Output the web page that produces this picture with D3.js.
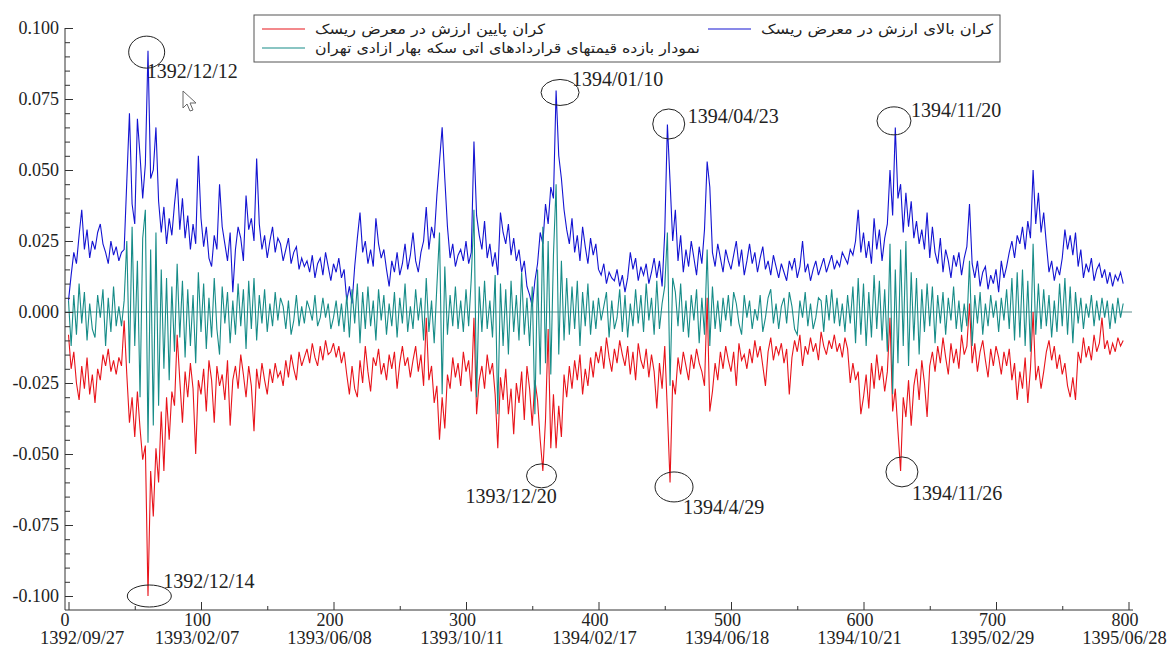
<!DOCTYPE html>
<html>
<head>
<meta charset="utf-8">
<script src="https://cdn.jsdelivr.net/npm/d3@7"></script>
<style>
  body { margin: 0; background: #fff; }
</style>
</head>
<body>
<div id="chart"></div>
<script>
// values are in thousandths (0.025 -> 25), one reading every 2 observations
const step = 2;

// upper value-at-risk bound
const upperBound = [
    4, 13, 21, 17, 27, 36, 22, 29, 19, 25,
    22, 28, 31, 24, 21, 17, 25, 20, 23, 18,
    21, 22, 46, 70, 38, 31, 68, 55, 40, 52,
    92, 47, 50, 65, 39, 28, 37, 24, 33, 27,
    38, 47, 29, 40, 26, 34, 22, 31, 24, 55,
    33, 23, 30, 19, 16, 27, 22, 45, 30, 24,
    18, 28, 7, 22, 30, 26, 18, 41, 29, 33,
    25, 54, 31, 22, 27, 19, 25, 30, 21, 26,
    24, 18, 22, 26, 17, 21, 23, 15, 19, 16,
    18, 14, 20, 12, 17, 19, 13, 21, 16, 11,
    17, 14, 19, 12, 15, 4, 9, 3, 16, 26,
    35, 21, 25, 17, 22, 16, 33, 24, 19, 22,
    15, 9, 18, 14, 21, 13, 17, 24, 15, 20,
    28, 18, 14, 21, 25, 37, 22, 30, 26, 41,
    53, 65, 47, 30, 19, 24, 16, 20, 22, 18,
    25, 17, 21, 60, 34, 27, 22, 32, 19, 24,
    16, 21, 13, 35, 28, 24, 31, 20, 26, 18,
    22, 14, 18, 9, 6, 2, 11, 17, 28, 24,
    38, 31, 44, 40, 78, 55, 47, 36, 29, 24,
    33, 21, 27, 18, 30, 23, 17, 26, 20, 24,
    15, 13, 17, 10, 14, 12, 11, 15, 9, 13,
    7, 12, 21, 15, 19, 11, 16, 13, 17, 10,
    14, 19, 12, 18, 9, 28, 66, 46, 25, 36,
    18, 27, 14, 22, 16, 25, 19, 13, 23, 17,
    29, 53, 44, 21, 16, 24, 19, 14, 22, 18,
    15, 20, 25, 16, 22, 13, 18, 24, 17, 21,
    14, 19, 23, 15, 18, 13, 20, 16, 12, 17,
    14, 11, 18, 15, 19, 12, 16, 25, 14, 17,
    11, 15, 18, 13, 16, 19, 14, 17, 20, 15,
    18, 16, 21, 19, 17, 22, 20, 25, 36, 21,
    28, 19, 25, 17, 33, 22, 29, 18, 26, 31,
    50, 34, 65, 40, 45, 28, 42, 30, 39, 26,
    32, 24, 29, 22, 35, 19, 30, 21, 17, 26,
    14, 22, 18, 12, 20, 16, 21, 13, 19, 23,
    38, 17, 12, 18, 9, 14, 16, 8, 13, 10,
    15, 7, 18, 12, 16, 21, 25, 19, 27, 24,
    30, 22, 32, 26, 50, 31, 42, 28, 35, 24,
    14, 18, 11, 16, 13, 19, 29, 22, 27, 20,
    28, 16, 22, 12, 17, 14, 19, 11, 15, 17,
    12, 15, 10, 14, 9, 13, 11, 14, 10
];

// lower value-at-risk bound
const lowerBound = [
    -8, -20, -14, -25, -31, -19, -27, -16, -29, -22,
    -32, -20, -24, -15, -19, -13, -21, -17, -22, -16,
    -19, -3, -22, -39, -30, -44, -28, -41, -52, -47,
    -100, -56, -72, -48, -60, -35, -56, -30, -45, -28,
    -33, -8, -24, -39, -21, -30, -18, -27, -50, -24,
    -29, -20, -35, -17, -24, -39, -19, -26, -22, -31,
    -17, -40, -24, -19, -27, -15, -22, -30, -19, -26,
    -42, -20, -27, -18, -24, -29, -20, -25, -18, -23,
    -21, -26, -17, -23, -15, -20, -24, -14, -19, -16,
    -13, -18, -11, -16, -19, -12, -17, -10, -15, -14,
    -11, -16, -12, -18, -14, -22, -29, -19, -27, -30,
    -17, -25, -12, -21, -28, -16, -19, -13, -22, -18,
    -24, -15, -20, -14, -27, -18, -12, -19, -16, -23,
    -17, -12, -21, -15, -26, -2, -24, -19, -32, -26,
    -45, -30, -41, -22, -27, -16, -23, -18, -26, -14,
    -21, -17, -28, -2, -36, -24, -19, -27, -15, -22,
    -18, -29, -48, -23, -31, -20, -36, -27, -43, -25,
    -32, -21, -38, -19, -27, -40, -24, -31, -45, -56,
    -38, -6, -48, -29, -48, -33, -44, -22, -30, -19,
    -27, -17, -24, -15, -29, -20, -26, -16, -23, -14,
    -18, -12, -20, -9, -16, -21, -13, -18, -10, -15,
    -19, -12, -22, -14, -24, -11, -17, -20, -13, -23,
    -15, -21, -34, -18, -27, -12, -35, -60, -24, -29,
    -16, -22, -14, -19, -24, -15, -20, -13, -18, -21,
    -26, 5, -35, -28, -18, -24, -14, -20, -12, -17,
    -21, -14, -26, -11, -17, -15, -20, -13, -18, -10,
    -16, -12, -19, -26, -14, -9, -17, -12, -15, -11,
    -18, -13, -29, -16, -10, -14, -8, -19, -12, -15,
    -9, -14, -11, -17, -7, -12, -15, -10, -13, -8,
    -14, -11, -16, -9, -13, -25, -18, -24, -21, -36,
    -30, -22, -34, -18, -27, -15, -24, -19, -28, -21,
    -2, -35, -27, -42, -56, -30, -37, -24, -40, -26,
    -20, -31, -17, -25, -37, -19, -14, -21, -12, -18,
    -9, -16, -22, -11, -18, -13, -20, -8, -15, -12,
    3, -18, -11, -21, -14, -10, -17, -23, -13, -19,
    -12, -16, -22, -14, -19, -13, -24, -18, -31, -21,
    -27, -16, -32, -20, 0, -24, -19, -27, -21, -14,
    -10, -17, -12, -20, -15, -22, -18, -26, -30, -23,
    -31, -14, -18, -9, -16, -12, -17, -8, -14, -11,
    -2, -13, -10, -15, -11, -14, -9, -12, -10
];

// returns of the futures prices
const returns = [
    4, -12, 6, -8, 10, -4, 7, -10, 3, -6,
    -9, 6, -2, 8, -12, 5, -7, 9, -5, 2,
    -5, 4, 25, -18, 30, -12, 18, -30, 26, 36,
    -46, 22, -40, 28, -33, 15, -20, 12, -24, 9,
    -14, 17, -9, 11, -16, 8, -12, 6, -18, 14,
    -7, 10, -13, 5, -9, 12, -6, -15, 9, -4,
    7, -11, 4, -8, 10, -5, 8, -13, 11, -6,
    12, -10, 6, -4, 8, -7, 3, -5, 7, -3,
    5, 2, -6, 4, -8, -3, 6, -5, 2, -4,
    4, 1, -3, 6, -5, -2, 5, -2, 3, -6,
    -2, 4, -5, 3, -7, 6, -9, 8, -4, 10,
    -11, 7, -6, 9, -5, 4, -10, 8, -3, 6,
    -8, 3, -5, 7, -9, 5, -4, 10, -7, 2,
    -6, 8, -3, 5, -10, 12, -7, 4, -11, 9,
    28, -29, 16, -8, 6, -5, 9, -6, 4, -7,
    8, -5, 12, 36, -30, 9, -7, 11, -6, 4,
    -9, 13, -36, 10, -12, 8, -15, 11, -7, 6,
    -10, 14, -8, 5, -12, 9, -36, 15, -22, 30,
    -18, 25, -22, 20, 45, -15, 18, -10, 12, -8,
    9, -6, 11, -12, 7, -5, 10, -8, 4, -6,
    5, -3, 2, 7, -9, 4, -6, -2, 8, -7,
    6, -9, 3, -5, 8, -4, 6, -7, 10, -3,
    5, -8, 11, -6, 3, 9, 28, -26, 12, 7,
    -5, 10, -7, 4, -9, 6, -3, 8, -11, 5,
    -8, 22, -12, 9, -6, 4, -7, 5, -3, 6,
    -5, 7, 3, -4, -8, 6, -2, 4, -6, 1,
    -3, 6, -7, -2, 5, 8, -4, 3, -6, 2,
    5, -4, 7, 2, -6, -8, 4, -2, 7, -5,
    3, -6, -2, 5, 4, -7, 6, -3, 8, -4,
    5, -5, 3, -7, 6, -4, 9, -11, 12, -8,
    10, -12, 7, -9, 13, -6, 11, -10, 8, -14,
    24, -29, 15, -18, 22, -12, 25, -19, 14, -10,
    12, -15, 8, -7, 10, -5, 9, -11, 6, -4,
    7, -8, 5, -3, 9, -6, 4, -7, 3, -5,
    18, -12, 6, -4, 7, -8, 3, -5, 6, -2,
    4, -7, 5, -3, 8, -6, 12, -10, 14, -9,
    15, -12, 11, -14, 24, -8, 10, -6, 8, -5,
    6, -9, 4, -7, 10, -5, 12, -8, 9, -11,
    7, -4, 5, -6, 3, -2, 6, -5, 4, -3,
    5, -2, 4, -6, 3, -4, 5, -2, 3
];

const xTicks = [0, 100, 200, 300, 400, 500, 600, 700, 800];
const xDates = ["1392/09/27", "1393/02/07", "1393/06/08", "1393/10/11", "1394/02/17",
                "1394/06/18", "1394/10/21", "1395/02/29", "1395/06/28"];
const yTicks = [-100, -75, -50, -25, 0, 25, 50, 75, 100];

const seriesNames = ["کران پایین ارزش در معرض ریسک", "کران بالای ارزش در معرض ریسک",
                     "نمودار بازده قیمتهای قراردادهای اتی سکه بهار ازادی تهران"];

// circled extremes: date, observation, value (thousandths)
const peakDates = ["1392/12/12", "1392/12/14", "1394/01/10", "1393/12/20",
                   "1394/04/23", "1394/4/29", "1394/11/20", "1394/11/26"];
const peakIndex = [59, 61, 371, 357, 453, 457, 623, 629];
const peakValue = [91.5, -100, 77.3, -57.7, 66.2, -61.6, 67.3, -56.3];

const width = 1169, height = 648;
const colors = { lower: "#e8141b", upper: "#1414d2", returns: "#178c88" };

const svg = d3.select("#chart").append("svg")
    .attr("width", width)
    .attr("height", height);

const x = d3.scaleLinear().domain([0, 800]).range([68.5, 1128.5]);
const y = d3.scaleLinear().domain([-100, 100]).range([596, 28]);
const axisLeftX = 65, axisBottomY = 610;

// zero line
svg.append("line")
    .attr("x1", axisLeftX).attr("x2", 1132)
    .attr("y1", y(0)).attr("y2", y(0))
    .attr("stroke", "#5d8f8d")
    .attr("stroke-width", 1);

// series
const line = d3.line()
    .x((d, i) => x(i * step))
    .y(d => y(d));

[[lowerBound, colors.lower], [upperBound, colors.upper], [returns, colors.returns]]
    .forEach(([values, color]) => {
        svg.append("path")
            .datum(values)
            .attr("fill", "none")
            .attr("stroke", color)
            .attr("stroke-width", 1.1)
            .attr("d", line);
    });

// Y axis
const yAxis = svg.append("g")
    .attr("transform", `translate(${axisLeftX},0)`)
    .call(d3.axisLeft(y).tickValues(yTicks).tickSize(-8).tickPadding(6)
        .tickFormat(d => (d / 1000).toFixed(3)));
svg.append("g")
    .attr("transform", `translate(${axisLeftX},0)`)
    .call(d3.axisLeft(y).tickValues(d3.range(-95, 100, 5).filter(d => d % 25 !== 0))
        .tickSize(-5).tickFormat(""));

// X axis
const xAxis = svg.append("g")
    .attr("transform", `translate(0,${axisBottomY})`)
    .call(d3.axisBottom(x).tickValues(xTicks).tickSize(-8).tickPadding(3));
svg.append("g")
    .attr("transform", `translate(0,${axisBottomY})`)
    .call(d3.axisBottom(x).tickValues(d3.range(50, 800, 100)).tickSize(-4).tickFormat(""));

svg.selectAll(".domain").remove();
svg.selectAll(".tick line").attr("stroke", "#333");

yAxis.selectAll("text")
    .attr("font-family", "Liberation Serif")
    .attr("font-size", 18)
    .attr("fill", "#222");

xAxis.selectAll("text")
    .attr("font-family", "Liberation Serif")
    .attr("font-size", 18)
    .attr("fill", "#222")
    .attr("dx", -4);

// date labels under the tick numbers
svg.selectAll(".date")
    .data(xTicks)
    .enter()
    .append("text")
    .attr("class", "date")
    .attr("x", d => x(d) - 4)
    .attr("y", axisBottomY + 34)
    .attr("text-anchor", "middle")
    .attr("font-family", "Liberation Serif")
    .attr("font-size", 18.5)
    .attr("fill", "#222")
    .text((d, i) => xDates[i])
    .each(function () {
        // keep the first label inside the window
        const w = this.getComputedTextLength();
        const left = +this.getAttribute("x") - w / 2;
        if (left < 40) this.setAttribute("x", 40 + w / 2);
    });

// axis lines
svg.append("line")
    .attr("x1", axisLeftX).attr("x2", axisLeftX)
    .attr("y1", y(100)).attr("y2", axisBottomY)
    .attr("stroke", "#333");
svg.append("line")
    .attr("x1", axisLeftX).attr("x2", 1133)
    .attr("y1", axisBottomY).attr("y2", axisBottomY)
    .attr("stroke", "#333");

// legend
const legend = svg.append("g");
legend.append("rect")
    .attr("x", 254).attr("y", 15)
    .attr("width", 746).attr("height", 47)
    .attr("fill", "#fff")
    .attr("stroke", "#555");

const legendItems = [
    { name: seriesNames[0], color: colors.lower, col: 0, row: 0, len: 230 },
    { name: seriesNames[1], color: colors.upper, col: 1, row: 0, len: 232 },
    { name: seriesNames[2], color: colors.returns, col: 0, row: 1, len: 385 }
];
legendItems.forEach(item => {
    const lx = item.col === 0 ? 262 : 708;
    const ly = 29 + item.row * 19;
    legend.append("line")
        .attr("x1", lx).attr("x2", lx + 43)
        .attr("y1", ly).attr("y2", ly)
        .attr("stroke", item.color)
        .attr("stroke-width", 1.2);
    legend.append("text")
        .attr("x", lx + 53)
        .attr("y", ly + 5)
        .attr("font-family", "DejaVu Sans")
        .attr("font-size", 14)
        .attr("textLength", item.len)
        .attr("lengthAdjust", "spacingAndGlyphs")
        .attr("fill", "#222")
        .text(item.name);
});

// circled extremes
const peakLayout = [
    { rx: 18, ry: 16, dx: 0, dy: 26 },
    { rx: 22, ry: 11, dx: 14, dy: -8 },
    { rx: 19, ry: 13, dx: 12, dy: -6 },
    { rx: 15, ry: 12, dx: -76, dy: 27 },
    { rx: 16, ry: 15, dx: 19, dy: -1 },
    { rx: 19, ry: 15, dx: 9, dy: 27 },
    { rx: 17, ry: 14, dx: 17, dy: -4 },
    { rx: 16, ry: 15, dx: 10, dy: 28 }
];
peakDates.forEach((date, i) => {
    const cx = x(peakIndex[i]), cy = y(peakValue[i]);
    const p = peakLayout[i];
    svg.append("ellipse")
        .attr("cx", cx).attr("cy", cy)
        .attr("rx", p.rx).attr("ry", p.ry)
        .attr("fill", "none")
        .attr("stroke", "#222")
        .attr("stroke-width", 1);
    svg.append("text")
        .attr("x", cx + p.dx)
        .attr("y", cy + p.dy)
        .attr("font-family", "Liberation Serif")
        .attr("font-size", 20)
        .attr("fill", "#222")
        .text(date);
});

// mouse pointer left in the screenshot
svg.append("path")
    .attr("d", "M183,91 L183,108 L187,104 L190,111 L193,110 L190,103 L196,103 Z")
    .attr("fill", "#fff")
    .attr("stroke", "#666")
    .attr("stroke-width", 1);
</script>
</body>
</html>
